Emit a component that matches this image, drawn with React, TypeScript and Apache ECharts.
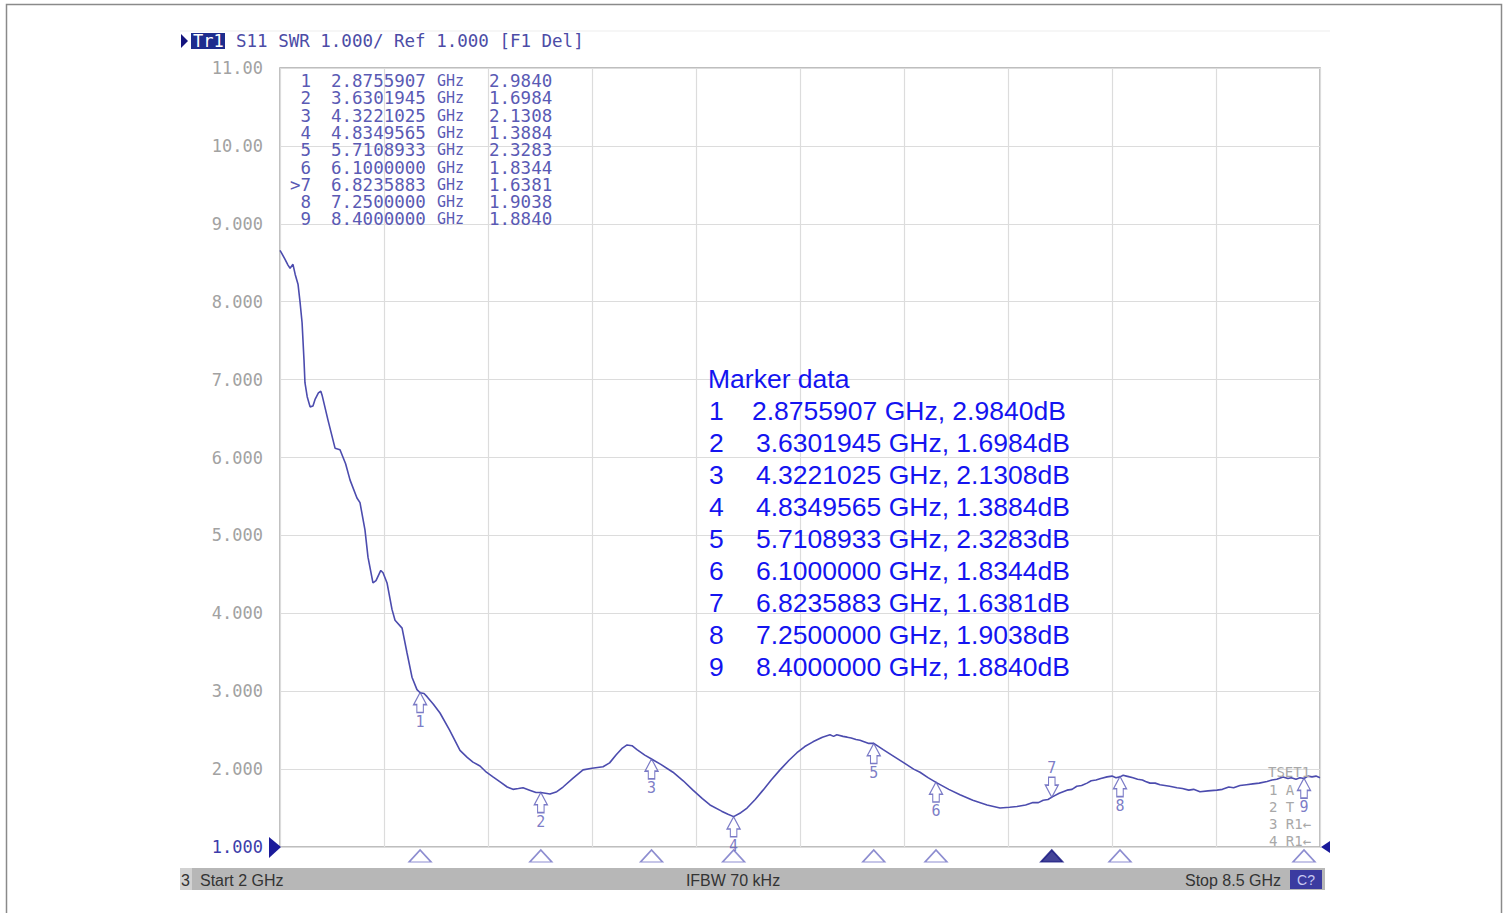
import React, { useEffect, useRef } from "react";
import * as echarts from "echarts";

// ---- Data ----
const traceFreqs = [
  2.0, 2.011, 2.03, 2.05, 2.063, 2.081, 2.095, 2.113, 2.125, 2.138, 2.15, 2.156, 2.17, 2.188, 2.206, 2.22, 2.24, 2.255, 2.263,
  2.3, 2.344, 2.375, 2.41, 2.438, 2.481, 2.5, 2.531, 2.55, 2.581, 2.6, 2.63, 2.644, 2.669, 2.7, 2.719, 2.763, 2.794, 2.825,
  2.856, 2.876, 2.9, 2.919, 2.96, 3.0, 3.06, 3.125, 3.17, 3.206, 3.25, 3.29, 3.331, 3.38, 3.42, 3.456, 3.49, 3.519, 3.56,
  3.6, 3.63, 3.6875, 3.73, 3.769, 3.83, 3.894, 3.95, 4.019, 4.06, 4.1, 4.14, 4.169, 4.2, 4.231, 4.28, 4.322, 4.38, 4.456,
  4.52, 4.581, 4.64, 4.6875, 4.76, 4.8, 4.835, 4.88, 4.919, 4.97, 5.019, 5.07, 5.125, 5.18, 5.231, 5.28, 5.331, 5.36, 5.39,
  5.4375, 5.46, 5.48, 5.519, 5.545, 5.57, 5.6, 5.625, 5.68, 5.711, 5.77, 5.831, 5.9, 5.96, 6.0, 6.05, 6.1, 6.18, 6.25,
  6.33, 6.419, 6.5, 6.56, 6.606, 6.66, 6.706, 6.74, 6.77, 6.8, 6.824, 6.87, 6.919, 6.95, 6.98, 7.01, 7.044, 7.07, 7.1,
  7.13, 7.169, 7.2, 7.225, 7.25, 7.27, 7.29, 7.31, 7.331, 7.36, 7.39, 7.41, 7.4375, 7.47, 7.5, 7.53, 7.56, 7.606, 7.64,
  7.68, 7.71, 7.75, 7.8, 7.856, 7.89, 7.93, 7.96, 8.0, 8.04, 8.08, 8.12, 8.169, 8.2, 8.23, 8.269, 8.3, 8.32, 8.35, 8.375,
  8.4, 8.425, 8.45, 8.475, 8.5,
];
const traceSwr = [
  8.66, 8.62, 8.55, 8.47, 8.43, 8.48, 8.35, 8.22, 8.0, 7.73, 7.25, 6.96, 6.78, 6.65, 6.66, 6.75, 6.83, 6.85, 6.8,
  6.48, 6.12, 6.1, 5.92, 5.71, 5.48, 5.42, 5.07, 4.72, 4.39, 4.42, 4.55, 4.52, 4.39, 4.05, 3.91, 3.81, 3.49, 3.18,
  3.02, 2.98, 2.97, 2.93, 2.83, 2.72, 2.5, 2.24, 2.15, 2.09, 2.04, 1.96, 1.9, 1.83, 1.77, 1.74, 1.75, 1.76, 1.73,
  1.7, 1.7, 1.68, 1.71, 1.77, 1.88, 1.99, 2.01, 2.03, 2.08, 2.18, 2.27, 2.31, 2.3, 2.25, 2.18, 2.13, 2.06, 1.96,
  1.85, 1.73, 1.62, 1.54, 1.46, 1.42, 1.39, 1.44, 1.5, 1.61, 1.73, 1.86, 1.99, 2.11, 2.21, 2.29, 2.35, 2.38, 2.41,
  2.44, 2.42, 2.44, 2.42, 2.41, 2.4, 2.38, 2.37, 2.33, 2.33, 2.25, 2.17, 2.08, 2.0, 1.96, 1.89, 1.83, 1.74, 1.67,
  1.6, 1.54, 1.5, 1.51, 1.52, 1.54, 1.57, 1.57, 1.6, 1.61, 1.64, 1.69, 1.73, 1.74, 1.78, 1.79, 1.82, 1.85, 1.86,
  1.88, 1.9, 1.91, 1.89, 1.9, 1.92, 1.91, 1.9, 1.89, 1.87, 1.86, 1.84, 1.82, 1.82, 1.8, 1.79, 1.78, 1.76, 1.75,
  1.73, 1.74, 1.71, 1.72, 1.73, 1.74, 1.77, 1.76, 1.79, 1.8, 1.81, 1.82, 1.84, 1.86, 1.87, 1.9, 1.88, 1.89, 1.87, 1.89,
  1.88, 1.91, 1.9, 1.91, 1.89,
];

const markerIds = ["1", "2", "3", "4", "5", "6", "7", "8", "9"];
const markerFreqs = [2.8755907, 3.6301945, 4.3221025, 4.8349565, 5.7108933, 6.1, 6.8235883, 7.25, 8.4];
const markerValues = [2.984, 1.6984, 2.1308, 1.3884, 2.3283, 1.8344, 1.6381, 1.9038, 1.884];
const activeMarker = "7";

const headerText = "S11 SWR 1.000/ Ref 1.000 [F1 Del]";
const statusStart = "Start 2 GHz";
const statusMid = "IFBW 70 kHz";
const statusStop = "Stop 8.5 GHz";
const sideLabels = ["TSET1", "1 A", "2 T", "3 R1\u2190", "4 R1\u2190"];

const MONO = "'DejaVu Sans Mono', 'Liberation Mono', monospace";
const SANS = "'Liberation Sans', Arial, sans-serif";

const UP_ARROW = "path://M6,0 L12,11 L9,11 L9,18 L3,18 L3,11 L0,11 Z";
const DOWN_ARROW = "path://M3,0 L9,0 L9,7 L12,7 L6,18 L0,7 L3,7 Z";

export default function App() {
  const ref = useRef<HTMLDivElement>(null);

  useEffect(() => {
    document.body.style.margin = "0";
    const chart = echarts.init(ref.current!, null, { renderer: "svg" });

    const trace = traceFreqs.map((f, i) => [f, traceSwr[i]]);

    const curveMarkers = markerFreqs.map((f, i) => {
      const active = markerIds[i] === activeMarker;
      return {
        value: [f, markerValues[i]],
        name: markerIds[i],
        symbol: active ? DOWN_ARROW : UP_ARROW,
        symbolOffset: active ? [0, -10] : [0, 10],
        label: { position: active ? "top" : "bottom", distance: 1 },
      };
    });

    const axisMarkers = markerFreqs.map((f, i) => {
      const active = markerIds[i] === activeMarker;
      return {
        value: [f, 1],
        itemStyle: active
          ? { color: "#14147e", borderColor: "#14147e" }
          : { color: "#ffffff", borderColor: "#7070c4" },
      };
    });

    const graphics: any[] = [];
    const Z = 50;
    graphics.push({
      type: "rect",
      z: Z,
      shape: { x: 6.5, y: 4.5, width: 1495, height: 930 },
      style: { fill: "none", stroke: "#8a8a8a", lineWidth: 1.5 },
      silent: true,
    });
    graphics.push({
      type: "line",
      z: Z,
      shape: { x1: 180, y1: 31, x2: 1330, y2: 31 },
      style: { stroke: "#ededed", lineWidth: 1 },
    });
    // header
    graphics.push({
      type: "polygon",
      z: Z,
      shape: { points: [[181, 34], [188, 41], [181, 48]] },
      style: { fill: "#14147e" },
    });
    graphics.push({
      type: "rect",
      z: Z,
      shape: { x: 191, y: 33, width: 34, height: 16 },
      style: { fill: "#1d2c8e" },
    });
    graphics.push({
      type: "text",
      z: Z + 1,
      x: 193,
      y: 41,
      style: { text: "Tr1", fill: "#ffffff", font: `17px ${MONO}`, verticalAlign: "middle" },
    });
    graphics.push({
      type: "text",
      z: Z,
      x: 236,
      y: 41,
      style: { text: headerText, fill: "#4c4ca6", font: `17.5px ${MONO}`, verticalAlign: "middle" },
    });
    // marker table
    markerIds.forEach((id, i) => {
      const y = 81 + i * 17.3;
      const idText = id === activeMarker ? ">" + id : id;
      const st = { fill: "#5a5ab4", font: `17.5px ${MONO}`, verticalAlign: "middle" };
      graphics.push({ type: "text", z: Z, x: 311, y, style: { ...st, text: idText, align: "right" } });
      graphics.push({ type: "text", z: Z, x: 331, y, style: { ...st, text: markerFreqs[i].toFixed(7) } });
      graphics.push({ type: "text", z: Z, x: 437, y, style: { ...st, text: "GHz", font: `15px ${MONO}` } });
      graphics.push({ type: "text", z: Z, x: 489, y, style: { ...st, text: markerValues[i].toFixed(4) } });
    });
    // Marker data annotation
    const blue = { fill: "#1414f0", font: `26.5px ${SANS}`, verticalAlign: "middle" };
    graphics.push({ type: "text", z: Z, x: 708, y: 379, style: { ...blue, text: "Marker data" } });
    markerIds.forEach((id, i) => {
      const y = 411 + i * 32;
      graphics.push({ type: "text", z: Z, x: 709, y, style: { ...blue, text: id } });
      graphics.push({
        type: "text",
        z: Z,
        x: i === 0 ? 752 : 756,
        y,
        style: { ...blue, text: `${markerFreqs[i].toFixed(7)} GHz, ${markerValues[i].toFixed(4)}dB` },
      });
    });
    // reference arrows
    graphics.push({
      type: "polygon",
      z: Z,
      shape: { points: [[269, 837], [281, 847], [269, 858]] },
      style: { fill: "#1a1a9a" },
    });
    graphics.push({
      type: "polygon",
      z: Z,
      shape: { points: [[1330, 841], [1321, 847], [1330, 853]] },
      style: { fill: "#1a1a9a" },
    });
    // side labels
    sideLabels.forEach((t, i) => {
      graphics.push({
        type: "text",
        z: Z,
        x: i === 0 ? 1268 : 1269,
        y: i === 0 ? 772 : 790 + (i - 1) * 17,
        style: { text: t, fill: "#a8a8a8", font: `14px ${MONO}`, verticalAlign: "middle" },
      });
    });
    // status bar
    graphics.push({ type: "rect", z: Z, shape: { x: 180, y: 868, width: 1145, height: 22 }, style: { fill: "#b7b7b7" } });
    graphics.push({ type: "rect", z: Z, shape: { x: 180, y: 868, width: 12, height: 22 }, style: { fill: "#d2d2d2" } });
    const st2 = { fill: "#333333", font: `16px ${SANS}`, verticalAlign: "middle" };
    graphics.push({ type: "text", z: Z + 1, x: 181, y: 880, style: { ...st2, text: "3" } });
    graphics.push({ type: "text", z: Z + 1, x: 200, y: 880, style: { ...st2, text: statusStart } });
    graphics.push({ type: "text", z: Z + 1, x: 733, y: 880, style: { ...st2, text: statusMid, align: "center" } });
    graphics.push({ type: "text", z: Z + 1, x: 1281, y: 880, style: { ...st2, text: statusStop, align: "right" } });
    graphics.push({ type: "rect", z: Z + 1, shape: { x: 1290, y: 870, width: 32, height: 19 }, style: { fill: "#3b3ba0" } });
    graphics.push({
      type: "text",
      z: Z + 2,
      x: 1306,
      y: 880,
      style: { text: "C?", fill: "#c8c8f0", font: `14px ${SANS}`, align: "center", verticalAlign: "middle" },
    });

    chart.setOption({
      animation: false,
      backgroundColor: "#ffffff",
      grid: {
        left: 280,
        top: 68,
        width: 1040,
        height: 779,
        show: true,
        borderColor: "#a9a9a9",
        borderWidth: 1.5,
        backgroundColor: "transparent",
      },
      xAxis: [
        { type: "value", min: 2, max: 8.5, show: false, splitLine: { show: false } },
        {
          type: "value",
          min: 0,
          max: 10,
          interval: 1,
          position: "bottom",
          axisLine: { show: false },
          axisTick: { show: false },
          axisLabel: { show: false },
          splitLine: { show: true, lineStyle: { color: "#dcdcdc", width: 1.2 } },
        },
      ],
      yAxis: {
        type: "value",
        min: 1,
        max: 11,
        interval: 1,
        axisLine: { show: false },
        axisTick: { show: false },
        splitLine: { show: true, lineStyle: { color: "#dcdcdc", width: 1.2 } },
        axisLabel: {
          margin: 17,
          fontFamily: MONO,
          fontSize: 17,
          color: (v: any) => (Number(v) === 1 ? "#3c3caa" : "#a2a2a2"),
          formatter: (v: number) => (v >= 10 ? v.toFixed(2) : v.toFixed(3)),
        },
      },
      series: [
        {
          type: "line",
          xAxisIndex: 0,
          data: trace,
          showSymbol: false,
          symbol: "none",
          lineStyle: { color: "#4c4cae", width: 1.6 },
          z: 3,
        },
        {
          type: "scatter",
          xAxisIndex: 0,
          data: curveMarkers,
          symbolSize: [13, 20],
          clip: false,
          itemStyle: { color: "#ffffff", borderColor: "#5a5ab8", borderWidth: 1.3 },
          label: {
            show: true,
            formatter: (p: any) => p.name,
            color: "#5a5ab8",
            fontFamily: MONO,
            fontSize: 15,
          },
          z: 4,
        },
        {
          type: "scatter",
          xAxisIndex: 0,
          data: axisMarkers,
          symbol: "triangle",
          symbolSize: [22, 12],
          symbolOffset: [0, 9],
          clip: false,
          itemStyle: { borderWidth: 1.5 },
          z: 4,
        },
      ],
      graphic: graphics,
    });

    return () => chart.dispose();
  }, []);

  return <div ref={ref} style={{ width: 1508, height: 913 }} />;
}
